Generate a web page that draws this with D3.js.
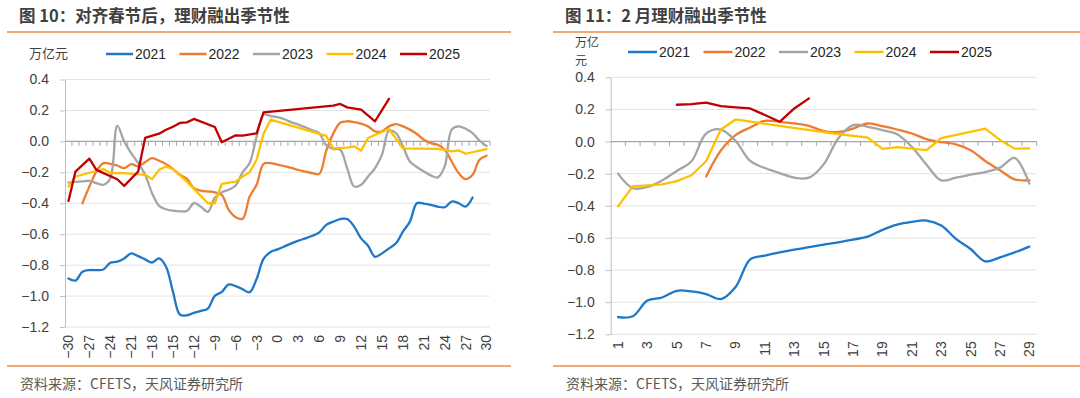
<!DOCTYPE html>
<html>
<head>
<meta charset="utf-8">
<script src="https://cdn.jsdelivr.net/npm/d3@7"></script>
<style>
body{margin:0;background:#fff;}
svg{display:block;font-family:"Liberation Sans",Arial,"Noto Sans CJK SC",sans-serif;}
</style>
</head>
<body>
<div id="chart"></div>
<script>
var years=['2021','2022','2023','2024','2025'];
var colors=['#1f77c8','#ed7d31','#a5a5a5','#ffc000','#c00000'];
var smoothed=[true,true,true,false,false];
var yTicks=[0.4,0.2,0,-0.2,-0.4,-0.6,-0.8,-1.0,-1.2];

// left: days after spring festival
var leftDays=d3.range(-30,31);
var leftTicks=d3.range(-30,31,3);
var left2021=[-0.886,-0.90,-0.843,-0.832,-0.832,-0.828,-0.785,-0.778,-0.757,-0.724,
  -0.742,-0.763,-0.783,-0.757,-0.81,-0.973,-1.12,-1.124,-1.109,-1.096,
  -1.081,-0.999,-0.973,-0.925,-0.936,-0.956,-0.975,-0.89,-0.76,-0.715,
  -0.698,-0.679,-0.659,-0.642,-0.627,-0.61,-0.588,-0.54,-0.519,-0.502,
  -0.502,-0.551,-0.627,-0.675,-0.746,-0.724,-0.692,-0.659,-0.584,-0.519,
  -0.40,-0.402,-0.411,-0.422,-0.426,-0.389,-0.40,-0.422,-0.363,null,null];
var left2022=[null,null,-0.40,-0.292,-0.195,-0.141,-0.145,-0.156,-0.173,-0.147,
  -0.162,-0.134,-0.108,-0.125,-0.147,-0.179,-0.216,-0.242,-0.303,-0.318,
  -0.324,-0.329,-0.346,-0.443,-0.49,-0.50,-0.357,-0.281,-0.145,-0.141,
  -0.15,-0.16,-0.172,-0.185,-0.195,-0.205,-0.21,-0.06,0.05,0.12,
  0.13,0.125,0.115,0.097,0.065,0.065,0.097,0.112,0.097,0.076,
  0.048,0.011,-0.011,-0.022,-0.054,-0.13,-0.205,-0.244,-0.216,-0.119,-0.093];
var left2023=[-0.266,-0.262,-0.259,-0.255,-0.27,-0.281,-0.24,0.1,0.0,-0.076,
  -0.14,-0.216,-0.335,-0.417,-0.439,-0.448,-0.452,-0.45,-0.40,-0.422,
  -0.456,-0.365,-0.329,-0.313,-0.285,-0.199,-0.14,0.03,0.173,0.164,
  0.156,0.143,0.123,0.108,0.091,0.071,0.052,-0.026,-0.048,-0.054,
  -0.173,-0.292,-0.281,-0.227,-0.173,-0.086,0.069,0.054,-0.032,-0.13,
  -0.166,-0.195,-0.22,-0.233,-0.162,0.076,0.097,0.082,0.054,0.004,-0.03];
var left2024=[-0.292,-0.227,null,null,null,-0.179,-0.205,null,-0.205,null,
  null,-0.216,-0.244,-0.184,-0.162,-0.18,null,-0.26,null,null,
  -0.40,-0.40,-0.275,null,-0.26,-0.227,-0.2,-0.119,0.05,0.14,
  null,null,null,null,null,null,null,0.035,-0.045,null,
  -0.04,-0.032,-0.06,0.022,null,null,0.08,null,-0.045,null,
  null,null,null,-0.048,-0.055,-0.065,-0.058,-0.08,null,null,-0.05];
var left2025=[-0.385,-0.195,null,-0.112,-0.184,null,null,-0.245,-0.288,null,
  -0.195,0.022,null,0.05,0.075,0.095,0.119,0.123,0.145,null,
  null,0.093,-0.006,null,0.039,0.037,null,0.052,0.188,null,
  null,null,null,null,null,null,null,null,0.231,0.242,
  0.22,null,0.205,null,0.13,null,0.275,null,null,null,
  null,null,null,null,null,null,null,null,null,null,null];

// right: days of February
var rightDays=d3.range(1,30);
var rightTicks=d3.range(1,30,2);
var right2021=[-1.093,-1.088,-0.99,-0.971,-0.929,-0.933,-0.95,-0.981,-0.906,-0.733,
  -0.71,-0.69,-0.673,-0.658,-0.642,-0.627,-0.61,-0.592,-0.55,-0.517,
  -0.50,-0.492,-0.523,-0.606,-0.669,-0.746,-0.721,-0.69,-0.654];
var right2022=[null,null,null,null,null,null,-0.217,-0.056,0.04,0.0875,
  0.129,0.123,0.1125,0.098,0.065,0.06,0.081,0.1125,0.096,0.075,
  0.05,0.015,-0.004,-0.017,-0.054,-0.121,-0.179,-0.235,-0.242];
var right2023=[-0.2,-0.29,-0.283,-0.242,-0.183,-0.123,0.05,0.075,0.004,-0.121,
  -0.165,-0.196,-0.225,-0.225,-0.142,0.021,0.102,0.092,0.071,0.046,
  -0.033,-0.144,-0.242,-0.225,-0.206,-0.19,-0.1625,-0.102,-0.2625];
var right2024=[-0.404,-0.279,null,-0.267,-0.246,-0.21,-0.121,0.075,0.1375,null,
  null,null,null,null,0.058,null,null,0.025,-0.046,-0.035,
  -0.044,-0.054,0.021,null,null,0.081,0.01,-0.044,-0.042];
var right2025=[null,null,null,null,0.229,0.233,0.242,0.221,0.213,0.206,
  0.165,0.123,0.206,0.269,null,null,null,null,null,null,
  null,null,null,null,null,null,null,null,null];

var svg=d3.select('#chart').append('svg')
  .attr('width',1080)
  .attr('height',398);

drawPanel({
  title:'图 10：对齐春节后，理财融出季节性', titleX:19,
  ruleX0:7, ruleX1:511, sourceX:20,
  unit:['万亿元'], unitX:29, unitY:58, unitSize:13,
  legendX:106, legendStep:73.5, legendY:54, legendLen:27,
  days:leftDays, ticks:leftTicks,
  series:[left2021,left2022,left2023,left2024,left2025],
  x0:65, x1:490, yTop:79.5, yBot:327, labelGap:8
});

drawPanel({
  title:'图 11：2 月理财融出季节性', titleX:565,
  ruleX0:553, ruleX1:1080, sourceX:566,
  unit:['万亿','元'], unitX:575, unitY:47, unitSize:12,
  legendX:628, legendStep:75.5, legendY:52, legendLen:29,
  days:rightDays, ticks:rightTicks,
  series:[right2021,right2022,right2023,right2024,right2025],
  x0:610.7, x1:1036.7, yTop:77.3, yBot:334.3, labelGap:7
});

function drawPanel(p){
  // header and footer
  svg.append('text')
    .attr('x',p.titleX).attr('y',22)
    .style('font-family','"Noto Sans CJK SC",sans-serif')
    .style('font-weight','bold')
    .style('font-size','16.5px')
    .attr('fill','#404040')
    .text(p.title);
  svg.append('line')
    .attr('x1',p.ruleX0).attr('x2',p.ruleX1)
    .attr('y1',32).attr('y2',32)
    .attr('stroke','#f08a3c').attr('stroke-width',1.5);
  svg.append('line')
    .attr('x1',p.ruleX0).attr('x2',p.ruleX1)
    .attr('y1',366).attr('y2',366)
    .attr('stroke','#f08a3c').attr('stroke-width',1.5);
  svg.append('text')
    .attr('x',p.sourceX).attr('y',389)
    .style('font-family','"Noto Sans CJK SC",sans-serif')
    .style('font-size','14px')
    .attr('fill','#595959')
    .text('资料来源：CFETS，天风证券研究所');

  // unit label (wraps on the right panel)
  var unit=svg.append('text')
    .attr('x',p.unitX).attr('y',p.unitY)
    .style('font-family','"Noto Sans CJK SC",sans-serif')
    .style('font-size',p.unitSize+'px')
    .attr('fill','#404040');
  unit.selectAll('tspan')
    .data(p.unit)
    .enter()
    .append('tspan')
    .attr('x',p.unitX)
    .attr('dy',function(d,i){return i==0?0:18;})
    .text(function(d){return d;});

  // legend
  var leg=svg.selectAll(null)
    .data(years)
    .enter()
    .append('g')
    .attr('transform',function(d,i){return 'translate('+(p.legendX+i*p.legendStep)+','+p.legendY+')';});
  leg.append('line')
    .attr('x1',0).attr('x2',p.legendLen)
    .attr('stroke',function(d,i){return colors[i];})
    .attr('stroke-width',2.5);
  leg.append('text')
    .attr('x',p.legendLen+2).attr('y',5)
    .style('font-size','14px')
    .attr('fill','#262626')
    .text(function(d){return d;});

  var x=d3.scaleBand().domain(p.days).range([p.x0,p.x1]).padding(0);
  var y=d3.scaleLinear().domain([-1.2,0.4]).range([p.yBot,p.yTop]);
  var bw=x.bandwidth();

  // gridlines
  svg.append('g').selectAll('line')
    .data(yTicks)
    .enter()
    .append('line')
    .attr('x1',p.x0).attr('x2',p.x1)
    .attr('y1',function(d){return y(d);})
    .attr('y2',function(d){return y(d);})
    .attr('stroke','#e3e3e3')
    .attr('stroke-width',1);

  // y axis
  var yAxis=svg.append('g')
    .attr('transform','translate('+p.x0+',0)')
    .call(d3.axisLeft(y).tickValues(yTicks).tickFormat(d3.format('.1f')).tickSize(5).tickSizeOuter(0).tickPadding(11));
  yAxis.select('.domain').attr('stroke','#bfbfbf');
  yAxis.selectAll('.tick line').attr('stroke','#bfbfbf');
  yAxis.selectAll('text')
    .style('font-size','14px')
    .style('font-family','"Liberation Sans",Arial,sans-serif')
    .attr('fill','#404040');

  // zero line with category boundary ticks
  svg.append('line')
    .attr('x1',p.x0).attr('x2',p.x1)
    .attr('y1',y(0)).attr('y2',y(0))
    .attr('stroke','#a6a6a6').attr('stroke-width',1.2);
  var bounds=p.days.map(function(d){return x(d)+bw;});
  svg.append('g').selectAll('line')
    .data(bounds)
    .enter()
    .append('line')
    .attr('x1',function(d){return d;})
    .attr('x2',function(d){return d;})
    .attr('y1',y(0)).attr('y2',y(0)+4.5)
    .attr('stroke','#a6a6a6').attr('stroke-width',1);

  // x labels at the bottom, rotated
  var xAxis=svg.append('g')
    .attr('transform','translate(0,'+p.yBot+')')
    .call(d3.axisBottom(x).tickValues(p.ticks).tickFormat(d3.format('d')).tickSize(0));
  xAxis.select('.domain').remove();
  xAxis.selectAll('text')
    .attr('transform','rotate(-90)')
    .attr('x',-p.labelGap)
    .attr('y',0)
    .attr('dy','0.35em')
    .style('text-anchor','end')
    .style('font-size','14px')
    .style('font-family','"Liberation Sans",Arial,sans-serif')
    .attr('fill','#404040');

  // series
  p.series.forEach(function(vals,k){
    var pts=p.days.map(function(d,i){return {d:d,v:vals[i]};})
      .filter(function(o){return o.v!=null;});
    var line=d3.line()
      .x(function(o){return x(o.d)+bw/2;})
      .y(function(o){return y(o.v);})
      .curve(smoothed[k]?d3.curveCatmullRom.alpha(0.5):d3.curveLinear);
    svg.append('path')
      .datum(pts)
      .attr('d',line)
      .attr('fill','none')
      .attr('stroke',colors[k])
      .attr('stroke-width',2.3)
      .attr('stroke-linejoin','round')
      .attr('stroke-linecap','round');
  });
}
</script>
</body>
</html>
